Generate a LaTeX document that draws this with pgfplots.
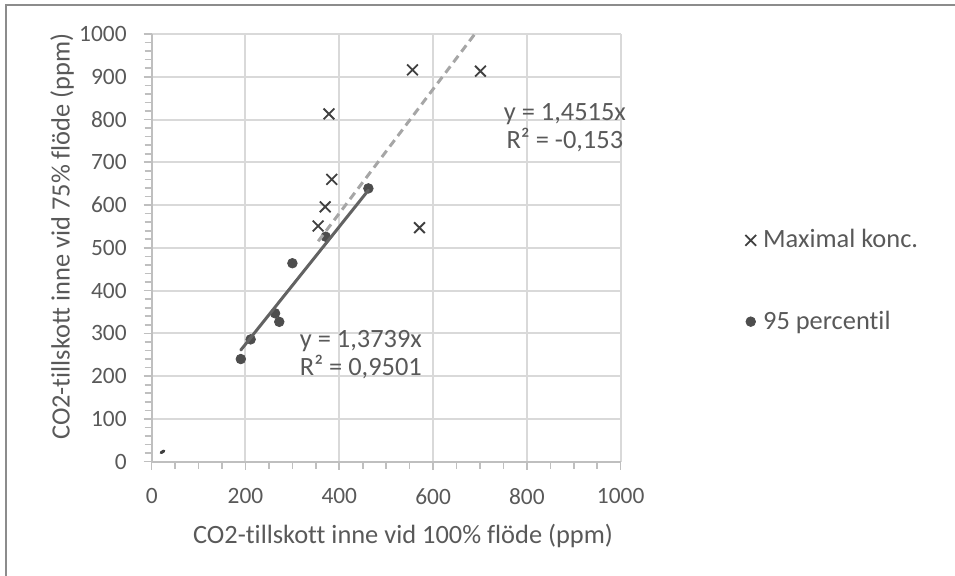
\documentclass[border=0pt]{standalone}
\usepackage{pgfplots}
\pgfplotsset{compat=1.18}
\usepackage{fontspec}
\setmainfont[Ligatures={NoCommon}]{Carlito}

\definecolor{txt}{HTML}{595959}
\definecolor{gridc}{HTML}{D9D9D9}
\definecolor{axc}{HTML}{BFBFBF}
\definecolor{crossc}{HTML}{404040}
\definecolor{dotc}{HTML}{4D4D4D}
\definecolor{trendA}{HTML}{626262}
\definecolor{trendB}{HTML}{A6A6A6}
\definecolor{framec}{HTML}{8C8C8C}

% Maximal koncentration (x = 100% flöde, y = 75% flöde)
\pgfplotstableread{
x y
556 916
701 913
378 813
384 660
370 596
355 551
571 547
}\maxkonc

% 95-percentil
\pgfplotstableread{
x y
190 240
211 286
263 347
272 327
300 464
371 526
462 639
}\perc

\newcommand\lblfont{\fontsize{13.2pt}{14pt}\selectfont}

\begin{document}
\begin{tikzpicture}
\useasboundingbox (0,0) rectangle (477.5pt,288pt);
% chart frame
\draw[framec, line width=1pt] (3pt,-2pt) -- (3pt,285.65pt) -- (480pt,285.65pt);
\begin{axis}[
  at={(75.85pt,57.15pt)}, anchor=south west,
  scale only axis, width=234.5pt, height=213.85pt,
  xmin=0, xmax=1000, ymin=0, ymax=1000,
  xtick={0,200,...,1000}, ytick={0,100,...,1000},
  minor x tick num=3, minor y tick num=4,
  axis lines*=left,
  axis line style={axc, line width=1pt},
  tick align=outside,
  major tick length=4pt, minor tick length=3.5pt,
  every tick/.style={axc, line width=0.8pt},
  grid=major, major grid style={gridc, line width=1pt},
  tick label style={txt, font=\fontsize{11.7pt}{14pt}\selectfont},
  xticklabel style={yshift=-6pt},
  yticklabel style={xshift=-5pt},
  /pgf/number format/assume math mode=true,
  /pgf/number format/1000 sep={},
  xlabel={CO2-tillskott inne vid 100\% flöde (ppm)},
  ylabel={CO2-tillskott inne vid 75\% flöde (ppm)},
  label style={txt, font=\lblfont},
  xlabel style={at={(axis description cs:0.536,-0.174)}, anchor=center},
  ylabel style={at={(axis description cs:-0.191,0.5265)}, anchor=center, rotate=0},
  clip mode=individual,
  legend style={draw=none, fill=none, at={(1.265,0.4225)}, anchor=west,
    inner sep=0pt, row sep=26pt, font=\lblfont,
    text=txt, column sep=1.5pt},
  legend cell align=left,
  legend image code/.code={\draw[#1] plot coordinates {(0pt,0pt)};},
]
\addplot[only marks, mark=x, mark size=3.8pt, crossc, line width=0.9pt] table {\maxkonc};
\addlegendentry{Maximal konc.}
\addplot[only marks, mark=*, mark size=2.4pt, dotc] table {\perc};
\addlegendentry{95 percentil}

% linear trend lines through origin
\addplot[forget plot, trendB, line width=1.5pt, dash pattern=on 4pt off 2.6pt] coordinates {(355,515.3) (688.9,1000)};
\addplot[forget plot, trendA, line width=1.5pt, line cap=round] coordinates {(190,261.0) (462,634.7)};
\addplot[forget plot, crossc, line width=1.5pt, line cap=round] coordinates {(20,21) (26,25)};

\node[txt, align=center, font=\lblfont] at (axis cs:881,780) {y = 1,4515x\\R² = -0,153};
\node[txt, align=center, font=\lblfont] at (axis cs:446,250.6) {y = 1,3739x\\R² = 0,9501};
\end{axis}
\end{tikzpicture}
\end{document}
